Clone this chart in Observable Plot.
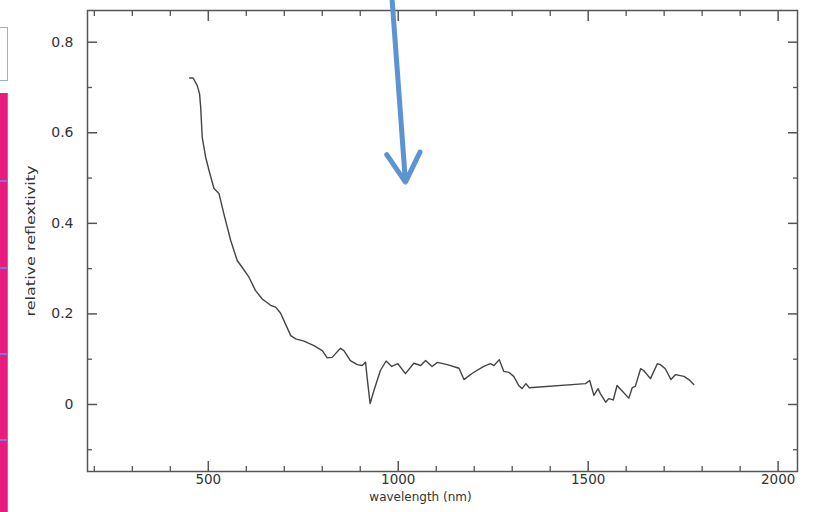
<!DOCTYPE html>
<html>
<head>
<meta charset="utf-8">
<script src="https://cdn.jsdelivr.net/npm/d3@7"></script>
<script src="https://cdn.jsdelivr.net/npm/@observablehq/plot@0.6"></script>
<style>
  html, body { margin: 0; padding: 0; background: #fff; }
  #wrap { position: relative; width: 813px; height: 512px; overflow: hidden; }
  #chart { position: absolute; left: 0; top: 0; }
  .box { position: absolute; left: -2px; top: 27px; width: 8px; height: 52px; border: 1.5px solid #8fb4e3; background: #fff; }
  .pink { position: absolute; left: 0; top: 93px; width: 7px; height: 419px; background: #e81c7e; border-right: 1px solid #a46ad8; }
  .sep { position: absolute; left: 0; width: 8px; height: 1.5px; background: #8a6fe0; }
</style>
</head>
<body>
<div id="wrap">
  <div id="chart"></div>
  <div class="box"></div>
  <div class="pink"></div>
  <div class="sep" style="top:180px"></div>
  <div class="sep" style="top:267px"></div>
  <div class="sep" style="top:353px"></div>
  <div class="sep" style="top:439px"></div>
</div>
<script>
const wavelength = [451,460,471,477,480,484,493,504,515,528,541,559,576,589,607,624,642,664,677,690,703,717,730,752,778,800,813,826,838,848,857,874,892,905,914,918,926,936,953,968,983,999,1019,1041,1059,1072,1089,1103,1129,1160,1173,1195,1225,1243,1252,1266,1278,1291,1304,1317,1326,1336,1345,1493,1504,1515,1526,1532,1546,1554,1566,1576,1587,1607,1616,1624,1638,1646,1664,1682,1690,1703,1718,1730,1752,1765,1778];
const reflectivity = [0.721,0.721,0.704,0.686,0.656,0.590,0.546,0.510,0.477,0.466,0.421,0.362,0.318,0.303,0.281,0.252,0.233,0.219,0.215,0.202,0.178,0.152,0.145,0.140,0.130,0.119,0.103,0.104,0.115,0.124,0.119,0.097,0.088,0.086,0.093,0.060,0.002,0.031,0.075,0.096,0.084,0.090,0.068,0.091,0.086,0.097,0.084,0.093,0.088,0.080,0.055,0.069,0.084,0.090,0.086,0.099,0.073,0.071,0.062,0.042,0.035,0.046,0.037,0.046,0.053,0.020,0.035,0.024,0.005,0.013,0.010,0.042,0.032,0.014,0.037,0.040,0.079,0.075,0.057,0.090,0.088,0.079,0.055,0.066,0.062,0.055,0.044];

const xMajorTicks = [500, 1000, 1500, 2000];
const xMinorTicks = [200,300,400,600,700,800,900,1100,1200,1300,1400,1600,1700,1800,1900];
const yMajorTicks = [0, 0.2, 0.4, 0.6, 0.8];
const yMinorTicks = [-0.1, 0.1, 0.3, 0.5, 0.7];
const xDomain = [182, 2051];
const yDomain = [-0.148, 0.87];
const xTitle = "wavelength (nm)";
const yTitle = "relative reflextivity";

// annotation arrow (data units)
const arrowX = [984, 1019];
const arrowY = [0.892, 0.491];

const data = wavelength.map((w, i) => ({w, r: reflectivity[i]}));
const axisColor = "#555";
const textColor = "#333";
const noLabel = () => "";

const plot = Plot.plot({
  width: 813,
  height: 512,
  marginLeft: 87,
  marginRight: 16,
  marginTop: 10,
  marginBottom: 41,
  style: {fontFamily: "'DejaVu Sans', sans-serif", fontSize: "13.5px", color: textColor, background: "transparent"},
  x: {domain: xDomain},
  y: {domain: yDomain},
  marks: [
    // bottom axis
    Plot.axisX({anchor: "bottom", ticks: xMajorTicks, tickSize: -10, tickFormat: noLabel, stroke: axisColor, strokeWidth: 1.5, label: null}),
    Plot.axisX({anchor: "bottom", ticks: xMinorTicks, tickSize: -5, tickFormat: noLabel, stroke: axisColor, strokeWidth: 1.3, label: null}),
    Plot.axisX({anchor: "bottom", ticks: xMajorTicks, tickSize: 0, tickPadding: 3, tickFormat: d => String(d), fill: textColor, fontSize: 13.5, label: null}),
    // top axis
    Plot.axisX({anchor: "top", ticks: xMajorTicks, tickSize: -10, tickFormat: noLabel, stroke: axisColor, strokeWidth: 1.5, label: null}),
    Plot.axisX({anchor: "top", ticks: xMinorTicks, tickSize: -5, tickFormat: noLabel, stroke: axisColor, strokeWidth: 1.3, label: null}),
    // left axis
    Plot.axisY({anchor: "left", ticks: yMajorTicks, tickSize: -10, tickFormat: noLabel, stroke: axisColor, strokeWidth: 1.5, label: null}),
    Plot.axisY({anchor: "left", ticks: yMinorTicks, tickSize: -5, tickFormat: noLabel, stroke: axisColor, strokeWidth: 1.3, label: null}),
    Plot.axisY({anchor: "left", ticks: yMajorTicks, tickSize: 0, tickPadding: 14, tickFormat: d => d === 0 ? "0" : d.toFixed(1), fill: textColor, fontSize: 14, label: null}),
    // right axis
    Plot.axisY({anchor: "right", ticks: yMajorTicks, tickSize: -10, tickFormat: noLabel, stroke: axisColor, strokeWidth: 1.5, label: null}),
    Plot.axisY({anchor: "right", ticks: yMinorTicks, tickSize: -5, tickFormat: noLabel, stroke: axisColor, strokeWidth: 1.3, label: null}),
    Plot.frame({stroke: axisColor, strokeWidth: 1.5}),
    // titles
    Plot.text([xTitle], {frameAnchor: "bottom", dy: 29, dx: -22, text: d => d, fill: textColor, fontSize: 12, className: "xtitle"}),
    Plot.text([yTitle], {frameAnchor: "left", textAnchor: "middle", dx: -57, rotate: -90, text: d => d, fill: textColor, fontSize: 12.5, className: "ytitle"}),
    // spectrum line
    Plot.line(data, {x: "w", y: "r", stroke: "#444", strokeWidth: 1.4}),
    // arrow annotation
    Plot.arrow([0], {x1: () => arrowX[0], y1: () => arrowY[0], x2: () => arrowX[1], y2: () => arrowY[1], stroke: "#5b93d3", strokeWidth: 5, headLength: 10, headAngle: 60})
  ]
});
// stretch the vertical title along its baseline to the reference's length
plot.querySelectorAll(".ytitle text").forEach(t => {
  const tr = t.getAttribute("transform") || "";
  t.setAttribute("transform", tr + " scale(1.28,1)");
});
document.getElementById("chart").appendChild(plot);
</script>
</body>
</html>
